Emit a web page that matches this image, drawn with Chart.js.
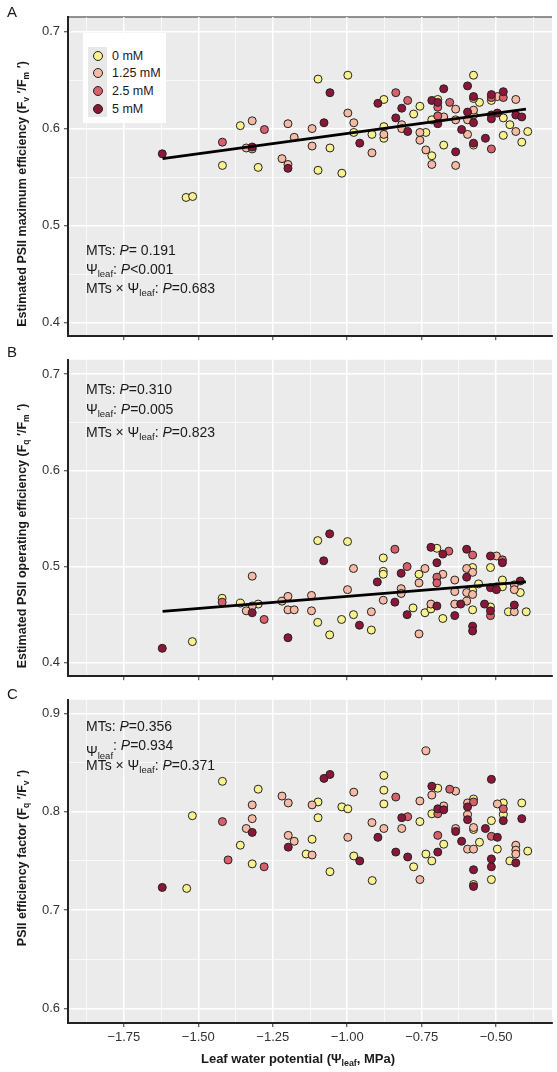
<!DOCTYPE html>
<html>
<head>
<meta charset="utf-8">
<script src="https://cdn.jsdelivr.net/npm/chart.js@4.4.1/dist/chart.umd.min.js"></script>
<style>
  body { margin: 0; background: #fff; }
  #fig { position: relative; width: 557px; height: 1072px; font-family: "Liberation Sans", Arial, Helvetica, sans-serif; color: #1a1a1a; overflow: hidden; }
  #fig canvas { position: absolute; left: 0; }
  .txt { position: absolute; white-space: nowrap; }
  .letter { font-size: 15px; line-height: 16px; left: 7px; }
  .note { font-size: 14px; line-height: 16px; left: 86px; }
  .note sub, .ytitle sub, .xtitle sub { font-size: 0.68em; vertical-align: -0.35em; line-height: 0; }
  .ytitle { font-size: 12.5px; font-weight: bold; line-height: 14px; left: 22px; transform: translate(-50%, -50%) rotate(-90deg); }
  .xtitle { font-size: 13px; font-weight: bold; line-height: 14px; transform: translate(-50%, -50%); }
  #legend { position: absolute; left: 83px; top: 33px; width: 83px; height: 90px; background: #fff; }
  #legend .key { position: absolute; left: 5px; top: 14px; width: 19px; height: 70px; background: #e8e8e8; }
  #legend .dot { position: absolute; width: 8px; height: 8px; border: 1px solid #222; border-radius: 50%; }
  #legend .lab { position: absolute; left: 29px; font-size: 12.5px; line-height: 14px; }
</style>
</head>
<body>
<div id="fig">
  <canvas id="chartA" width="557" height="348" style="top:0px"></canvas>
  <canvas id="chartB" width="557" height="340" style="top:348px"></canvas>
  <canvas id="chartC" width="557" height="384" style="top:688px"></canvas>

  <div class="txt letter" style="top:4px">A</div>
  <div class="txt letter" style="top:344px">B</div>
  <div class="txt letter" style="top:686px">C</div>

  <div class="txt ytitle" style="top:194px">Estimated PSII maximum efficiency (F<sub>v</sub> ′/F<sub>m</sub> ′)</div>
  <div class="txt ytitle" style="top:536px">Estimated PSII operating efficiency (F<sub>q</sub> ′/F<sub>m</sub> ′)</div>
  <div class="txt ytitle" style="top:858px">PSII efficiency factor (F<sub>q</sub> ′/F<sub>v</sub> ′)</div>
  <div class="txt xtitle" style="left:298px; top:1059px">Leaf water potential (Ψ<sub>leaf</sub>, MPa)</div>

  <div class="txt note" style="top:242px">MTs: <i>P</i>= 0.191</div>
  <div class="txt note" style="top:261px">Ψ<sub>leaf</sub>: <i>P</i>&lt;0.001</div>
  <div class="txt note" style="top:280px">MTs × Ψ<sub>leaf</sub>: <i>P</i>=0.683</div>

  <div class="txt note" style="top:381px">MTs: <i>P</i>=0.310</div>
  <div class="txt note" style="top:401px">Ψ<sub>leaf</sub>: <i>P</i>=0.005</div>
  <div class="txt note" style="top:424px">MTs × Ψ<sub>leaf</sub>: <i>P</i>=0.823</div>

  <div class="txt note" style="top:718px">MTs: <i>P</i>=0.356</div>
  <div class="txt note" style="top:737px"><span style="position:relative; top:6px">Ψ<sub>leaf</sub></span>: <i>P</i>=0.934</div>
  <div class="txt note" style="top:757px">MTs × Ψ<sub>leaf</sub>: <i>P</i>=0.371</div>

  <div id="legend"><div class="key"></div></div>
</div>

<script>
// treatment groups (melatonin concentration)
const groupNames = ['0 mM', '1.25 mM', '2.5 mM', '5 mM'];
const groupColors = ['#f8f18e', '#f6b9a3', '#d8606b', '#8b1638'];

// axis ticks
const xTickValues = [-1.75, -1.5, -1.25, -1.0, -0.75, -0.5];
const yTicksAB = [0.4, 0.5, 0.6, 0.7];
const yTicksC = [0.6, 0.7, 0.8, 0.9];

// fitted lines (ends of the fit over the observed range)
const fitX = [-1.62, -0.40];
const fitA = [0.569, 0.620];
const fitB = [0.4535, 0.484];

// A: Fv'/Fm'
const aX = [-1.621,-1.419,-1.419,-1.359,-1.319,-1.278,-1.339,-1.319,-1.319,-1.299,-1.541,-1.519,
  -1.199,-1.178,-1.219,-1.199,-1.199,-1.098,-1.058,-1.078,-1.118,-1.118,-1.058,-1.098,-1.018,
  -0.998,-0.998,-0.978,-0.978,-0.958,-0.917,-0.917,-0.897,-0.877,-0.877,-0.877,-0.877,-0.837,
  -0.837,-0.817,-0.817,-0.817,-0.797,-0.797,-0.777,-0.756,-0.756,-0.756,-0.736,-0.736,-0.716,
  -0.716,-0.716,-0.716,-0.696,-0.696,-0.696,-0.696,-0.696,-0.676,-0.676,-0.676,-0.656,-0.636,
  -0.636,-0.636,-0.636,-0.616,-0.596,-0.596,-0.596,-0.596,-0.576,-0.576,-0.576,-0.576,-0.576,
  -0.576,-0.576,-0.576,-0.556,-0.536,-0.516,-0.516,-0.516,-0.516,-0.516,-0.516,-0.496,-0.496,
  -0.476,-0.476,-0.476,-0.476,-0.454,-0.434,-0.434,-0.434,-0.414,-0.414,-0.394];
const aY = [0.574,0.586,0.562,0.603,0.608,0.599,0.580,0.579,0.581,0.560,0.529,0.530,
  0.605,0.591,0.569,0.563,0.559,0.651,0.637,0.606,0.600,0.582,0.580,0.557,0.554,
  0.655,0.616,0.606,0.596,0.585,0.594,0.575,0.626,0.630,0.602,0.594,0.590,0.637,
  0.611,0.621,0.604,0.600,0.629,0.597,0.615,0.623,0.596,0.588,0.596,0.578,0.629,
  0.609,0.572,0.563,0.630,0.627,0.622,0.613,0.605,0.612,0.641,0.583,0.627,0.620,
  0.609,0.576,0.562,0.599,0.594,0.644,0.617,0.609,0.655,0.633,0.631,0.619,0.614,
  0.606,0.585,0.583,0.627,0.590,0.635,0.629,0.632,0.614,0.610,0.579,0.616,0.633,
  0.638,0.632,0.611,0.593,0.604,0.630,0.614,0.597,0.612,0.586,0.597];
const aGroup = [3,2,0,0,1,2,1,1,3,0,0,0,
  1,1,1,1,3,0,3,3,1,1,0,0,0,
  0,1,1,0,3,0,1,3,0,0,1,0,2,
  3,3,1,1,2,3,0,0,1,1,0,1,3,
  0,0,1,0,3,2,2,3,1,3,0,2,1,
  1,3,1,3,1,3,3,1,0,3,1,1,0,
  3,3,0,0,3,3,0,2,3,3,2,3,1,
  3,2,0,0,0,1,3,1,3,0,0];

// B: Fq'/Fm'
const bX = [-1.621,-1.520,-1.420,-1.420,-1.359,-1.319,-1.319,-1.299,-1.339,-1.319,-1.279,
  -1.219,-1.199,-1.199,-1.178,-1.199,-1.099,-1.059,-1.079,-1.120,-1.120,-1.099,-1.059,-1.019,
  -0.999,-0.979,-0.999,-0.979,-0.959,-0.919,-0.919,-0.899,-0.879,-0.879,-0.879,-0.879,-0.840,
  -0.840,-0.819,-0.819,-0.819,-0.799,-0.799,-0.779,-0.759,-0.759,-0.759,-0.739,-0.739,-0.719,
  -0.719,-0.719,-0.699,-0.699,-0.699,-0.699,-0.699,-0.679,-0.679,-0.679,-0.659,-0.639,-0.639,
  -0.639,-0.639,-0.619,-0.599,-0.599,-0.599,-0.599,-0.599,-0.579,-0.579,-0.579,-0.579,-0.579,
  -0.579,-0.579,-0.579,-0.559,-0.539,-0.519,-0.519,-0.519,-0.519,-0.519,-0.519,-0.499,-0.499,
  -0.499,-0.479,-0.479,-0.479,-0.479,-0.459,-0.439,-0.439,-0.439,-0.439,-0.419,-0.419,-0.399];
const bY = [0.415,0.422,0.467,0.463,0.462,0.490,0.459,0.461,0.454,0.452,0.445,
  0.464,0.469,0.455,0.455,0.426,0.527,0.534,0.506,0.470,0.454,0.442,0.429,0.445,
  0.526,0.498,0.476,0.450,0.439,0.453,0.434,0.484,0.509,0.495,0.492,0.465,0.518,
  0.463,0.493,0.477,0.472,0.500,0.450,0.457,0.492,0.483,0.430,0.498,0.452,0.520,
  0.461,0.456,0.519,0.504,0.489,0.483,0.459,0.513,0.492,0.446,0.516,0.486,0.474,
  0.461,0.449,0.461,0.518,0.498,0.489,0.473,0.464,0.512,0.499,0.494,0.475,0.471,
  0.455,0.438,0.433,0.482,0.461,0.511,0.499,0.478,0.458,0.454,0.449,0.511,0.476,
  0.479,0.507,0.504,0.486,0.479,0.453,0.481,0.476,0.460,0.453,0.485,0.473,0.453];
const bGroup = [3,0,0,2,0,1,1,0,1,3,2,
  1,1,1,1,3,0,3,3,1,1,0,0,0,
  0,1,1,0,3,1,0,3,0,0,0,1,2,
  3,3,1,1,2,3,0,0,1,1,1,0,3,
  1,0,0,3,2,2,3,3,1,0,2,1,1,
  1,3,3,3,1,3,1,1,2,0,1,0,1,
  0,3,3,0,3,3,0,3,0,3,2,1,3,
  0,2,3,0,0,0,1,1,3,1,3,0,0];

// C: Fq'/Fv'
const cX = [-1.419,-1.520,-1.419,-1.299,-1.319,-1.319,-1.339,-1.319,-1.359,-1.621,-1.539,-1.400,
  -1.319,-1.279,-0.736,-1.078,-1.058,-1.219,-1.198,-1.118,-1.098,-1.098,-1.018,-0.998,-0.978,
  -1.198,-1.178,-1.198,-1.118,-0.998,-0.877,-0.877,-0.877,-0.917,-0.877,-0.897,-0.837,-0.817,
  -0.797,-0.817,-0.756,-0.756,-0.716,-0.716,-0.696,-0.696,-0.716,-0.696,-0.676,-0.676,-0.656,
  -0.636,-0.696,-0.676,-0.636,-0.636,-0.616,-0.596,-0.596,-0.596,-0.596,-0.576,-0.576,-0.576,
  -0.576,-0.536,-0.556,-0.516,-0.516,-0.516,-0.496,-0.496,-0.476,-0.476,-0.476,-0.476,-0.414,
  -0.414,-0.434,-1.138,-1.118,-1.058,-0.978,-0.958,-0.916,-0.837,-0.797,-0.777,-0.756,-0.736,
  -0.716,-0.696,-0.596,-0.576,-0.576,-0.576,-0.576,-0.516,-0.516,-0.516,-0.496,-0.454,-0.434,
  -0.434,-0.434,-0.394];
const cY = [0.831,0.796,0.790,0.823,0.807,0.793,0.783,0.779,0.766,0.723,0.722,0.751,
  0.747,0.744,0.862,0.834,0.838,0.816,0.809,0.807,0.810,0.794,0.805,0.803,0.820,
  0.776,0.770,0.764,0.772,0.774,0.837,0.822,0.808,0.789,0.783,0.774,0.815,0.794,
  0.795,0.783,0.811,0.790,0.826,0.817,0.824,0.803,0.798,0.798,0.802,0.806,0.823,
  0.821,0.776,0.767,0.783,0.780,0.770,0.809,0.805,0.797,0.792,0.813,0.810,0.784,
  0.782,0.783,0.769,0.833,0.791,0.775,0.774,0.808,0.809,0.803,0.797,0.791,0.809,
  0.793,0.766,0.757,0.756,0.739,0.755,0.750,0.730,0.759,0.754,0.744,0.731,0.757,
  0.750,0.759,0.762,0.762,0.741,0.726,0.724,0.752,0.744,0.731,0.762,0.750,0.748,
  0.761,0.757,0.760];
const cGroup = [0,0,2,0,1,1,1,3,0,3,0,2,
  0,2,1,3,3,1,1,1,0,0,0,0,1,
  1,1,3,0,1,0,0,0,1,1,3,2,3,
  2,1,1,0,3,1,0,3,0,2,3,1,2,
  1,2,0,1,3,3,1,3,1,3,0,2,1,
  0,3,0,3,0,2,3,1,0,2,0,3,0,
  3,1,0,1,0,0,3,0,3,3,0,1,0,
  0,3,1,1,3,0,3,3,3,0,0,0,3,
  1,1,0];

Chart.defaults.font.family = '"Liberation Sans", Arial, Helvetica, sans-serif';

const xMin = -1.9375, xMax = -0.3125;

// majors plus the half-step minor lines inside [lo, hi]
function withMinor(major, lo, hi) {
  const step = major[1] - major[0];
  const out = [];
  const first = major[0] - step / 2;
  for (let v = first; v <= hi + 1e-9; v += step / 2) {
    if (v >= lo - 1e-9) out.push(Math.round(v * 10000) / 10000);
  }
  return out;
}
const isMajor = (list, v) => list.some(m => Math.abs(m - v) < 1e-6);
const fmtX = v => (v < 0 ? '\u2212' : '') + Math.abs(v).toFixed(2);

// grey panel background and optional top rule
const panelBg = {
  id: 'panelBg',
  beforeDraw(chart, args, opts) {
    const { ctx, chartArea: a } = chart;
    ctx.save();
    ctx.fillStyle = '#ebebeb';
    ctx.fillRect(a.left, a.top, a.right - a.left, a.bottom - a.top);
    if (opts.topRule) {
      ctx.strokeStyle = '#6e6e6e';
      ctx.lineWidth = 1.5;
      ctx.beginPath();
      ctx.moveTo(a.left, a.top);
      ctx.lineTo(a.right, a.top);
      ctx.stroke();
    }
    ctx.restore();
  }
};

function makePanel(id, xs, ys, groups, fitY, yMin, yMax, yMajor, opts) {
  const datasets = [];
  if (fitY) {
    datasets.push({
      type: 'line',
      data: fitX.map((x, i) => ({ x: x, y: fitY[i] })),
      borderColor: '#000',
      borderWidth: 2.8,
      pointRadius: 0,
      showLine: true,
      fill: false
    });
  }
  // later groups go first so they sit on top
  for (let g = groupNames.length - 1; g >= 0; g--) {
    const pts = [];
    xs.forEach((x, i) => { if (groups[i] === g) pts.push({ x: x, y: ys[i] }); });
    datasets.push({
      label: groupNames[g],
      data: pts,
      backgroundColor: groupColors[g],
      borderColor: '#222',
      borderWidth: 1,
      pointRadius: 4,
      pointHoverRadius: 4
    });
  }

  const xGrid = withMinor(xTickValues, xMin, xMax);
  const yGrid = withMinor(yMajor, yMin, yMax);

  return new Chart(document.getElementById(id), {
    type: 'scatter',
    data: { datasets },
    plugins: [panelBg],
    options: {
      responsive: false,
      animation: false,
      events: [],
      layout: { padding: { top: opts.top, right: 1, left: 0, bottom: 0 } },
      plugins: {
        legend: { display: false },
        tooltip: { enabled: false },
        panelBg: { topRule: !!opts.topRule }
      },
      scales: {
        x: {
          type: 'linear',
          min: xMin,
          max: xMax,
          afterBuildTicks: s => { s.ticks = xGrid.map(v => ({ value: v })); },
          afterFit: s => { s.height = opts.xh; },
          ticks: {
            autoSkip: false,
            maxRotation: 0,
            padding: 3,
            color: '#333',
            font: { size: 13 },
            callback: v => (opts.xLabels && isMajor(xTickValues, v)) ? fmtX(v) : ''
          },
          grid: {
            color: '#ffffff',
            lineWidth: c => (c.tick && isMajor(xTickValues, c.tick.value)) ? 1.5 : 0.7,
            tickLength: 4,
            tickWidth: 1,
            tickColor: c => (c.tick && isMajor(xTickValues, c.tick.value)) ? '#333' : 'rgba(0,0,0,0)'
          },
          border: { color: '#222', width: 2 }
        },
        y: {
          type: 'linear',
          min: yMin,
          max: yMax,
          afterBuildTicks: s => { s.ticks = yGrid.map(v => ({ value: v })); },
          afterFit: s => { s.width = 68; },
          ticks: {
            autoSkip: false,
            padding: 4,
            color: '#333',
            font: { size: 13 },
            callback: v => isMajor(yMajor, v) ? v.toFixed(1) : ''
          },
          grid: {
            color: '#ffffff',
            lineWidth: c => (c.tick && isMajor(yMajor, c.tick.value)) ? 1.5 : 0.7,
            tickLength: 4,
            tickWidth: 1,
            tickColor: c => (c.tick && isMajor(yMajor, c.tick.value)) ? '#333' : 'rgba(0,0,0,0)'
          },
          border: { color: '#222', width: 2 }
        }
      }
    }
  });
}

makePanel('chartA', aX, aY, aGroup, fitA, 0.386, 0.715, yTicksAB, { top: 17, xh: 5, xLabels: false, topRule: true });
makePanel('chartB', bX, bY, bGroup, fitB, 0.386, 0.715, yTicksAB, { top: 9, xh: 5, xLabels: false });
makePanel('chartC', cX, cY, cGroup, null, 0.585, 0.914, yTicksC, { top: 8, xh: 49, xLabels: true });

// legend inside panel A
const legend = document.getElementById('legend');
const legendRows = [23, 40, 58, 76];
groupNames.forEach((name, g) => {
  const dot = document.createElement('div');
  dot.className = 'dot';
  dot.style.background = groupColors[g];
  dot.style.left = (14.5 - 5) + 'px';
  dot.style.top = (legendRows[g] - 5) + 'px';
  legend.appendChild(dot);
  const lab = document.createElement('div');
  lab.className = 'lab';
  lab.style.top = (legendRows[g] - 7) + 'px';
  lab.textContent = name;
  legend.appendChild(lab);
});
</script>
</body>
</html>
